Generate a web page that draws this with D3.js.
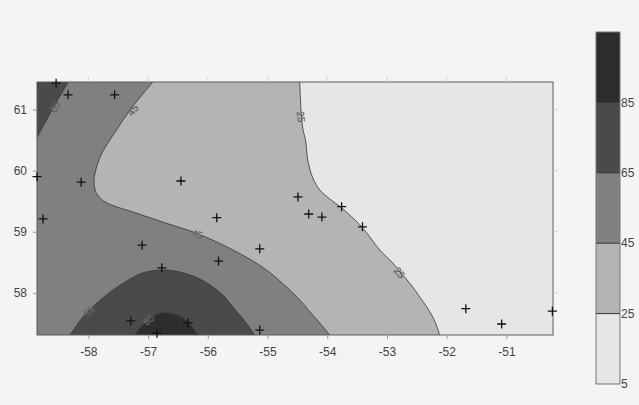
<!DOCTYPE html>
<html>
<head>
<meta charset="utf-8">
<script src="https://cdn.jsdelivr.net/npm/d3@7"></script>
<style>
  html, body { margin: 0; padding: 0; background: #f4f4f4; }
  svg { display: block; font-family: "Liberation Sans", Arial, sans-serif; }
</style>
</head>
<body>
<svg id="chart" width="639" height="405"></svg>
<script>
// Contour levels and the grey used for each band between them
const levels = [5, 25, 45, 65, 85, 105];
const bandColors = ["#e6e6e6", "#b4b4b4", "#808080", "#4a4a4a", "#2d2d2d"];

// Axis ticks
const xTicks = [-58, -57, -56, -55, -54, -53, -52, -51];
const yTicks = [58, 59, 60, 61];
const barTicks = [5, 25, 45, 65, 85];

// Station locations (longitude, latitude)
const stationLon = [-58.54, -58.34, -57.56, -58.86, -58.12, -56.45, -58.76, -55.85,
  -54.49, -54.31, -54.09, -53.76, -53.41, -57.10, -55.82, -56.77, -55.13,
  -57.29, -56.33, -56.85, -55.13, -51.68, -51.08, -50.23];
const stationLat = [61.43, 61.24, 61.24, 59.90, 59.81, 59.83, 59.21, 59.23,
  59.57, 59.29, 59.24, 59.41, 59.08, 58.78, 58.52, 58.41, 58.72,
  57.54, 57.51, 57.34, 57.39, 57.74, 57.49, 57.70];

// Isolines, [lon, lat]
const iso25 = [[-54.46, 61.45], [-54.448, 61.156], [-54.431, 60.877], [-54.405, 60.665],
  [-54.364, 60.501], [-54.326, 60.174], [-54.242, 59.88], [-54.125, 59.683],
  [-53.958, 59.536], [-53.757, 59.389], [-53.59, 59.242], [-53.406, 59.062],
  [-53.121, 58.702], [-52.904, 58.489], [-52.736, 58.293], [-52.569, 58.096],
  [-52.452, 57.933], [-52.335, 57.769], [-52.234, 57.606], [-52.168, 57.458],
  [-52.117, 57.31]];
const iso45 = [[-56.919, 61.45], [-57.276, 61.025], [-57.639, 60.501], [-57.772, 60.289],
  [-57.861, 60.064], [-57.905, 59.83], [-57.87, 59.64], [-57.74, 59.5],
  [-57.52, 59.405], [-57.359, 59.356], [-56.69, 59.138], [-56.188, 58.975], [-55.581, 58.702],
  [-55.017, 58.374], [-54.46, 57.884], [-54.292, 57.692], [-54.125, 57.507],
  [-53.958, 57.31]];
const iso65North = [[-58.336, 61.45], [-58.609, 60.992], [-58.865, 60.529]];
const iso65South = [[-58.308, 57.31], [-58.09, 57.606], [-57.856, 57.835], [-57.588, 58.047],
  [-57.354, 58.195], [-57.137, 58.309], [-56.936, 58.358], [-56.752, 58.374],
  [-56.551, 58.358], [-56.35, 58.309], [-56.133, 58.227], [-55.915, 58.096],
  [-55.731, 57.949], [-55.581, 57.769], [-55.397, 57.557], [-55.213, 57.31]];
const iso85 = [[-57.22, 57.31], [-57.086, 57.475], [-56.919, 57.606], [-56.752, 57.671],
  [-56.585, 57.655], [-56.417, 57.589], [-56.267, 57.442], [-56.166, 57.31]];

// Inline contour labels: level and where it sits (lon, lat)
const labelLevel = [65, 45, 25, 45, 25, 65, 85];
const labelLon = [-58.56, -57.25, -54.44, -56.18, -52.79, -57.99, -56.99];
const labelLat = [61.04, 60.99, 60.88, 58.96, 58.33, 57.70, 57.56];
const labelLine = [iso65North, iso45, iso25, iso45, iso25, iso65South, iso85];

const svg = d3.select("#chart");

const x = d3.scaleLinear().domain([-58.86, -50.22]).range([37, 553]);
const y = d3.scaleLinear().domain([57.31, 61.45]).range([335, 82]);
const [x0, x1] = x.domain();
const [y0, y1] = y.domain();

const line = d3.line()
  .x(d => x(d[0]))
  .y(d => y(d[1]))
  .curve(d3.curveCatmullRom.alpha(0.5));

svg.append("defs").append("clipPath").attr("id", "plot-clip")
  .append("rect")
  .attr("x", x(x0)).attr("y", y(y1))
  .attr("width", x(x1) - x(x0)).attr("height", y(y0) - y(y1));

const plot = svg.append("g").attr("clip-path", "url(#plot-clip)");

// Lowest band fills the whole field
plot.append("rect")
  .attr("x", x(x0)).attr("y", y(y1))
  .attr("width", x(x1) - x(x0)).attr("height", y(y0) - y(y1))
  .attr("fill", bandColors[0]);

// Each higher band painted over the previous one
const westCorners = `L${x(x0)},${y(y0)}L${x(x0)},${y(y1)}Z`;
const regions = [
  { d: line(iso25) + westCorners, level: 25 },
  { d: line(iso45) + westCorners, level: 45 },
  { d: line(iso65North) + `L${x(x0)},${y(y1)}Z`, level: 65 },
  { d: line(iso65South) + "Z", level: 65 },
  { d: line(iso85) + "Z", level: 85 }
];
plot.selectAll("path.band").data(regions).join("path")
  .attr("class", "band")
  .attr("d", r => r.d)
  .attr("fill", r => bandColors[levels.indexOf(r.level)]);

// Contour lines
plot.selectAll("path.iso").data([iso25, iso45, iso65North, iso65South, iso85]).join("path")
  .attr("class", "iso")
  .attr("d", line)
  .attr("fill", "none")
  .attr("stroke", "#333")
  .attr("stroke-width", 0.8);

// Contour labels, rotated along the local direction of their line
function localAngle(pts, px, py) {
  let best = Infinity, ang = 0;
  for (let i = 0; i < pts.length - 1; i++) {
    const ax = x(pts[i][0]), ay = y(pts[i][1]);
    const bx = x(pts[i + 1][0]), by = y(pts[i + 1][1]);
    const mx = (ax + bx) / 2, my = (ay + by) / 2;
    const dist = (mx - px) ** 2 + (my - py) ** 2;
    if (dist < best) {
      best = dist;
      ang = Math.atan2(by - ay, bx - ax) * 180 / Math.PI;
    }
  }
  if (ang > 90) ang -= 180;
  if (ang < -90) ang += 180;
  return ang;
}
plot.selectAll("text.clabel").data(labelLevel).join("text")
  .attr("class", "clabel")
  .attr("transform", (d, i) => {
    const px = x(labelLon[i]), py = y(labelLat[i]);
    return `translate(${px},${py}) rotate(${localAngle(labelLine[i], px, py)})`;
  })
  .attr("text-anchor", "middle")
  .attr("dy", "0.35em")
  .attr("font-size", 10)
  .attr("fill", "#2a2a2a")
  .attr("stroke", "#9a9a9a")
  .attr("stroke-width", 0.3)
  .text(d => d);

// Plot frame
svg.append("rect")
  .attr("x", x(x0)).attr("y", y(y1))
  .attr("width", x(x1) - x(x0)).attr("height", y(y0) - y(y1))
  .attr("fill", "none").attr("stroke", "#5a5a5a").attr("stroke-width", 1);

// Faint mirrored ticks on the top and right edges
svg.append("g").selectAll("line").data(xTicks).join("line")
  .attr("x1", d => x(d)).attr("x2", d => x(d))
  .attr("y1", y(y1)).attr("y2", y(y1) - 5)
  .attr("stroke", "#d0d0d0");
svg.append("g").selectAll("line").data(yTicks).join("line")
  .attr("x1", x(x1)).attr("x2", x(x1) + 5)
  .attr("y1", d => y(d)).attr("y2", d => y(d))
  .attr("stroke", "#d0d0d0");

// Axes
const xAxis = svg.append("g")
  .attr("transform", `translate(0,${y(y0)})`)
  .call(d3.axisBottom(x).tickValues(xTicks).tickSize(4).tickPadding(8)
    .tickFormat(d => String(d)));
const yAxis = svg.append("g")
  .attr("transform", `translate(${x(x0)},0)`)
  .call(d3.axisLeft(y).tickValues(yTicks).tickSize(4).tickPadding(6)
    .tickFormat(d => String(d)));
[xAxis, yAxis].forEach(g => {
  g.select(".domain").remove();
  g.selectAll(".tick line").attr("stroke", "#9a9a9a");
  g.selectAll(".tick text").attr("fill", "#444").attr("font-size", 12)
    .attr("font-family", "Liberation Sans, Arial, sans-serif");
});

// Station markers
const markers = svg.append("g");
markers.selectAll("path").data(stationLon).join("path")
  .attr("transform", (d, i) => `translate(${x(d)},${y(stationLat[i])})`)
  .attr("d", "M-4.5,0H4.5M0,-4.5V4.5")
  .attr("stroke", "#111")
  .attr("stroke-width", 1.3)
  .attr("fill", "none");

// Colour bar
const cb = d3.scaleLinear().domain([levels[0], levels[levels.length - 1]]).range([384, 32]);
const cbX = 596, cbW = 24;
const bar = svg.append("g");
bar.selectAll("rect").data(bandColors).join("rect")
  .attr("x", cbX)
  .attr("y", (c, i) => cb(levels[i + 1]))
  .attr("width", cbW)
  .attr("height", (c, i) => cb(levels[i]) - cb(levels[i + 1]))
  .attr("fill", c => c);
bar.selectAll("line").data(levels.slice(1, -1)).join("line")
  .attr("x1", cbX).attr("x2", cbX + cbW)
  .attr("y1", d => cb(d)).attr("y2", d => cb(d))
  .attr("stroke", "#333").attr("stroke-width", 1);
bar.append("rect")
  .attr("x", cbX).attr("y", cb.range()[1])
  .attr("width", cbW).attr("height", cb.range()[0] - cb.range()[1])
  .attr("fill", "none").attr("stroke", "#777").attr("stroke-width", 1);
bar.selectAll("text").data(barTicks).join("text")
  .attr("x", cbX + cbW + 1)
  .attr("y", d => cb(d))
  .attr("dy", "0.35em")
  .attr("font-size", 12)
  .attr("fill", "#444")
  .text(d => d);
</script>
</body>
</html>
